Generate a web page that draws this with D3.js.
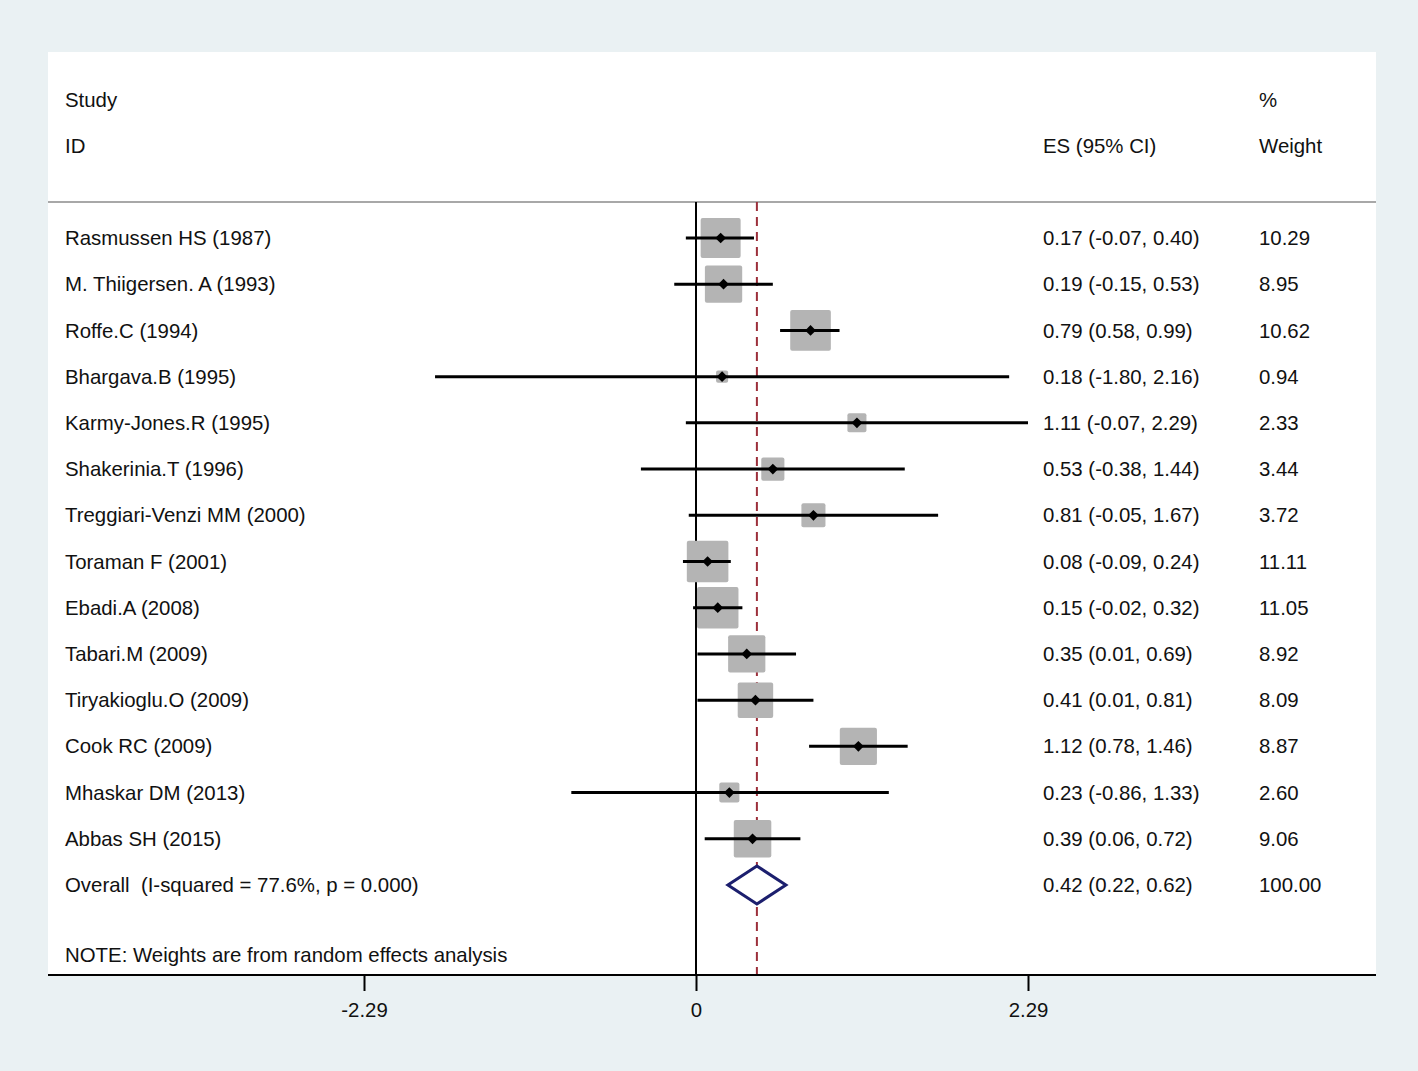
<!DOCTYPE html>
<html>
<head>
<meta charset="utf-8">
<script src="https://cdn.jsdelivr.net/npm/d3@7"></script>
<style>
  body { margin: 0; background: #eaf1f3; }
  svg { display: block; font-family: "Liberation Sans", Arial, sans-serif; }
  text { white-space: pre; }
</style>
</head>
<body>
<div id="forest"></div>
<script>
const studies = ["Rasmussen HS (1987)", "M. Thiigersen. A (1993)", "Roffe.C (1994)", "Bhargava.B (1995)",
    "Karmy-Jones.R (1995)", "Shakerinia.T (1996)", "Treggiari-Venzi MM (2000)", "Toraman F (2001)",
    "Ebadi.A (2008)", "Tabari.M (2009)", "Tiryakioglu.O (2009)", "Cook RC (2009)",
    "Mhaskar DM (2013)", "Abbas SH (2015)"]
const es    = [0.17, 0.19, 0.79, 0.18, 1.11, 0.53, 0.81, 0.08, 0.15, 0.35, 0.41, 1.12, 0.23, 0.39]
const lower = [-0.07, -0.15, 0.58, -1.80, -0.07, -0.38, -0.05, -0.09, -0.02, 0.01, 0.01, 0.78, -0.86, 0.06]
const upper = [0.40, 0.53, 0.99, 2.16, 2.29, 1.44, 1.67, 0.24, 0.32, 0.69, 0.81, 1.46, 1.33, 0.72]
const weights = [10.29, 8.95, 10.62, 0.94, 2.33, 3.44, 3.72, 11.11, 11.05, 8.92, 8.09, 8.87, 2.60, 9.06]
const overall = {label: "Overall  (I-squared = 77.6%, p = 0.000)", es: 0.42, lo: 0.22, hi: 0.62, w: 100.00}
const tickValues = [-2.29, 0, 2.29]

const W = 1418, H = 1071
const panel = {left: 48, right: 1376, top: 52, bottom: 975}

const svg = d3.select("#forest").append("svg")
    .attr("width", W).attr("height", H)

svg.append("rect").attr("width", W).attr("height", H).attr("fill", "#eaf1f3")
svg.append("rect")
    .attr("x", panel.left).attr("y", panel.top)
    .attr("width", panel.right - panel.left).attr("height", panel.bottom - panel.top)
    .attr("fill", "white")

const x = d3.scaleLinear().domain([-2.29, 2.29]).range([364, 1028])
const rows = studies.concat(["Overall"])
const y = d3.scalePoint().domain(rows).range([238, 885])
const boxSide = d3.scaleSqrt().domain([0, 10.29]).range([0, 40])

const fs = 20.4
const txt = (xx, yy, s) => svg.append("text")
    .attr("x", xx).attr("y", yy).attr("dy", "0.35em")
    .attr("font-size", fs).attr("fill", "#111").text(s)

// header
txt(65, 100, "Study")
txt(65, 146, "ID")
txt(1043, 146, "ES (95% CI)")
txt(1259, 100, "%")
txt(1259, 146, "Weight")

svg.append("line")
    .attr("x1", panel.left).attr("x2", panel.right)
    .attr("y1", 202).attr("y2", 202)
    .attr("stroke", "#a8a8a8").attr("stroke-width", 2)

// zero line and overall dashed line
svg.append("line")
    .attr("x1", x(0)).attr("x2", x(0)).attr("y1", 202).attr("y2", panel.bottom)
    .attr("stroke", "black").attr("stroke-width", 2)
svg.append("line")
    .attr("x1", x(overall.es)).attr("x2", x(overall.es)).attr("y1", 202).attr("y2", panel.bottom)
    .attr("stroke", "#9c2f3b").attr("stroke-width", 2)
    .attr("stroke-dasharray", "9,6")

const data = studies.map((s, i) => ({study: s, es: es[i], lo: lower[i], hi: upper[i], w: weights[i]}))

const g = svg.selectAll("g.study").data(data).join("g").attr("class", "study")

g.append("rect")
    .attr("x", d => x(d.es) - boxSide(d.w) / 2)
    .attr("y", d => y(d.study) - boxSide(d.w) / 2)
    .attr("width", d => boxSide(d.w))
    .attr("height", d => boxSide(d.w))
    .attr("rx", 2)
    .attr("fill", "#b4b4b4")

g.append("line")
    .attr("x1", d => x(d.lo)).attr("x2", d => x(d.hi))
    .attr("y1", d => y(d.study)).attr("y2", d => y(d.study))
    .attr("stroke", "black").attr("stroke-width", 3)

g.append("rect")
    .attr("x", -3.8).attr("y", -3.8).attr("width", 7.6).attr("height", 7.6)
    .attr("transform", d => `translate(${x(d.es)},${y(d.study)}) rotate(45)`)
    .attr("fill", "black")

const f2 = v => v.toFixed(2)
data.forEach(d => {
    txt(65, y(d.study), d.study)
    txt(1043, y(d.study), `${f2(d.es)} (${f2(d.lo)}, ${f2(d.hi)})`)
    txt(1259, y(d.study), f2(d.w))
})

// overall diamond
const oy = y("Overall")
svg.append("path")
    .attr("d", `M${x(overall.lo)},${oy} L${x(overall.es)},${oy - 19} L${x(overall.hi)},${oy} L${x(overall.es)},${oy + 19} Z`)
    .attr("fill", "white").attr("stroke", "#1c1f6e").attr("stroke-width", 3)
txt(65, oy, overall.label)
txt(1043, oy, `${f2(overall.es)} (${f2(overall.lo)}, ${f2(overall.hi)})`)
txt(1259, oy, f2(overall.w))

txt(65, 955, "NOTE: Weights are from random effects analysis")

// bottom axis
svg.append("line")
    .attr("x1", panel.left).attr("x2", panel.right)
    .attr("y1", panel.bottom).attr("y2", panel.bottom)
    .attr("stroke", "black").attr("stroke-width", 2)

const axis = svg.append("g")
    .attr("transform", `translate(0,${panel.bottom})`)
    .call(d3.axisBottom(x).tickValues(tickValues).tickSize(16).tickPadding(12)
        .tickFormat(d => d === 0 ? "0" : f2(d)))
axis.select(".domain").remove()
axis.selectAll(".tick line").attr("stroke", "black").attr("stroke-width", 2)
axis.selectAll(".tick text")
    .attr("font-size", fs).attr("fill", "#111")
    .attr("font-family", "\"Liberation Sans\", Arial, sans-serif")
</script>
</body>
</html>
